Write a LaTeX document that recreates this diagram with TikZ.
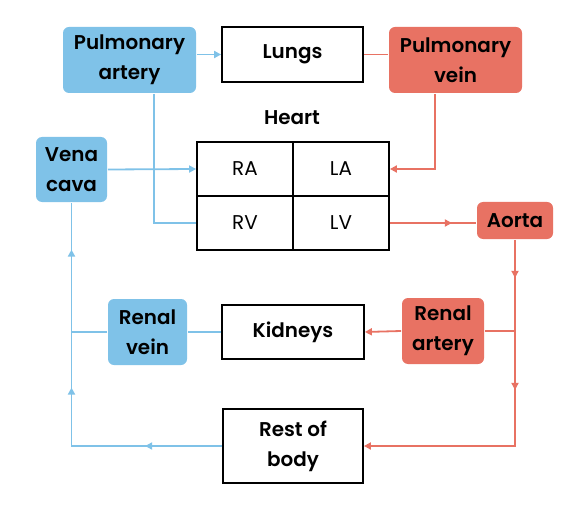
\documentclass[tikz,border=0pt]{standalone}
\usepackage{fontspec}
\setmainfont{Poppins}[BoldFont={Poppins SemiBold}]
\usetikzlibrary{arrows.meta,decorations.markings}
\definecolor{bluebox}{RGB}{127,194,232}
\definecolor{redbox}{RGB}{232,114,99}
\begin{document}
\begin{tikzpicture}[x=1bp,y=-1bp,line width=1.8bp,every node/.style={inner sep=1pt,align=center,font=\fontsize{20}{30}\selectfont}]
\tikzstyle{arrow}=[draw,-{Triangle[length=7bp,width=7bp]}]
\tikzstyle{bluevessel}=[rectangle,rounded corners=6bp,fill=bluebox,font=\fontsize{20}{30}\selectfont\bfseries]
\tikzstyle{redvessel}=[rectangle,rounded corners=6bp,fill=redbox,font=\fontsize{20}{30}\selectfont\bfseries]
\tikzstyle{organ}=[draw,rectangle,font=\fontsize{20}{30}\selectfont\bfseries]
\tikzstyle{cell}=[draw,rectangle,minimum width=96bp,minimum height=54bp]
\tikzstyle{bluel}=[bluebox,line width=1.8bp]
\tikzstyle{redl}=[redbox,line width=1.8bp]
\useasboundingbox (0,0) rectangle (586,510);

\node[bluevessel,minimum width=133bp,minimum height=66bp](n00) at (129.5,60){Pulmonary\\artery};
\node[organ,minimum width=141bp,minimum height=55bp](n01) at (292.5,54.5){Lungs};
\node[redvessel,minimum width=133bp,minimum height=66bp](n02) at (455.5,60){Pulmonary\\vein};

\node[font=\fontsize{20}{30}\selectfont\bfseries](nh) at (292,118){Heart};
\node[bluevessel,minimum width=71bp,minimum height=65bp](n10) at (71.5,169.5){Vena\\cava};
\node[cell](n11) at (245,169){RA};
\node[cell](n12) at (341,169){LA};

\node[cell](n21) at (245,223){RV};
\node[cell](n22) at (341,223){LV};
\node[redvessel,minimum width=76bp,minimum height=37bp](n23) at (515,220.5){Aorta};

\node[bluevessel,minimum width=79bp,minimum height=66bp](n30) at (147.5,332){Renal\\vein};
\node[organ,minimum width=142bp,minimum height=54bp](n31) at (293,332){Kidneys};
\node[redvessel,minimum width=82bp,minimum height=66bp](n32) at (443,331){Renal\\artery};

\node[organ,minimum width=140bp,minimum height=74bp](n41) at (293,446){Rest of\\body};

\draw[arrow,bluel] (n00.east|-n01.west) -- (n01.west);
\draw[redl] (n02.west|-n01.east) -- (n01.east);
\draw[arrow,redl] ([xshift=-20.5bp]n02.south) |- (n12.east);
\draw[bluel] ([xshift=24.5bp]n00.south) |- (n21.west);
\draw[arrow,bluel] (n10.east) -- (n11.west);
\draw[bluel,postaction={decorate},decoration={markings,
  mark=at position 77bp with {\arrow{Triangle[length=7bp,width=7bp]}},
  mark=at position 209bp with {\arrow{Triangle[length=7bp,width=7bp]}},
  mark=at position 347bp with {\arrow{Triangle[length=7bp,width=7bp]}}}]
  (n41.west) -| (n10.south);
\draw[bluel] (n30.west) -- (n30.west-|n10.south);
\draw[bluel] (n31.west) -- (n30.east);
\draw[redl,postaction={decorate},decoration={markings,
  mark=at position 62bp with {\arrow{Triangle[length=7bp,width=7bp]}}}]
  (n22.east) -- (n22.east-|n23.west);
\draw[arrow,redl,postaction={decorate},decoration={markings,
  mark=at position 38bp with {\arrow{Triangle[length=7bp,width=7bp]}},
  mark=at position 150bp with {\arrow{Triangle[length=7bp,width=7bp]}}}]
  (n23.south) |- (n41.east);
\draw[redl] (n32.east) -- (n32.east-|n23.south);
\draw[arrow,redl] (n32.west) -- (n31.east);
\end{tikzpicture}
\end{document}
